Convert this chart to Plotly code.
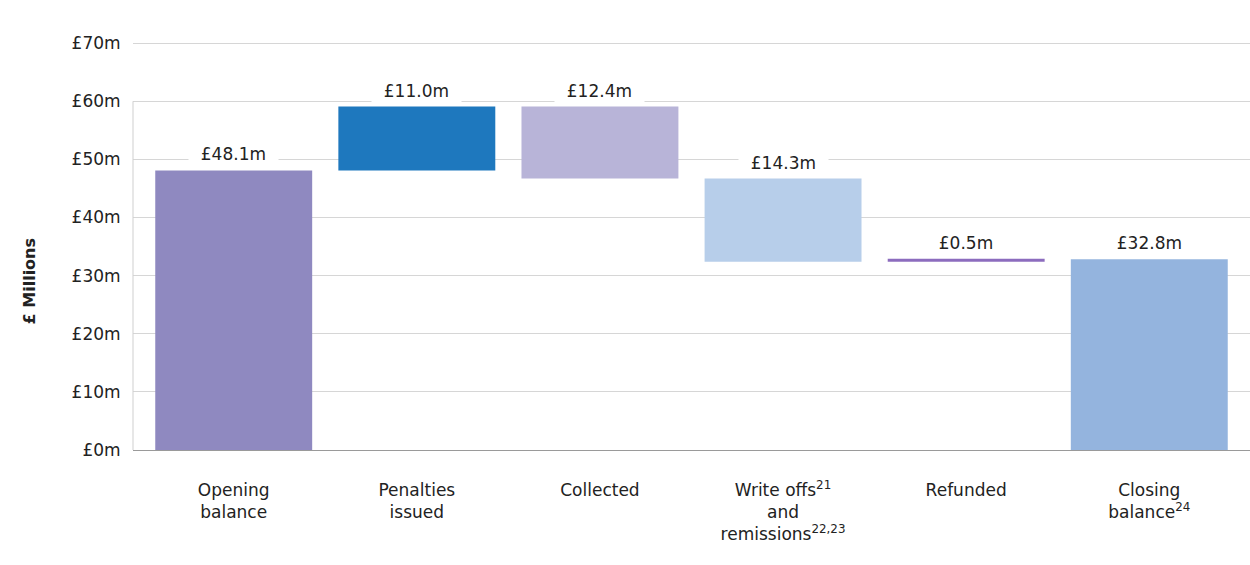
import plotly.graph_objects as go

categories = ["Opening<br>balance", "Penalties<br>issued", "Collected",
              "Write offs<sup>21</sup><br>and<br>remissions<sup>22,23</sup>",
              "Refunded", "Closing<br>balance<sup>24</sup>"]
changes = [48.1, 11.0, -12.4, -14.3, 0.5, 32.8]
measures = ["total", "relative", "relative", "relative", "relative", "total"]
value_labels = ["£48.1m", "£11.0m", "£12.4m", "£14.3m", "£0.5m", "£32.8m"]
colors = ["rgb(143,137,192)", "rgb(30,120,190)", "rgb(184,180,216)",
          "rgb(183,206,234)", "rgb(140,108,190)", "rgb(148,180,222)"]
y_ticks = [0, 10, 20, 30, 40, 50, 60, 70]
y_ticktext = ["£0m", "£10m", "£20m", "£30m", "£40m", "£50m", "£60m", "£70m"]
y_title = "£ Millions"

bases, heights, tops = [], [], []
running = 0.0
for c, m in zip(changes, measures):
    if m == "total":
        bases.append(0.0)
        heights.append(c)
        running = c
        tops.append(c)
    else:
        new = running + c
        bases.append(min(running, new))
        heights.append(abs(c))
        tops.append(max(running, new))
        running = new

x = list(range(len(categories)))
FONT = "DejaVu Sans"
TXT = "#222"

fig = go.Figure()
fig.add_trace(go.Bar(x=x, y=heights, base=bases, marker=dict(color=colors, line=dict(width=0)),
                     width=0.857, hoverinfo="skip", showlegend=False))

for xi, top, lab in zip(x, tops, value_labels):
    fig.add_annotation(x=xi, y=top, text="&nbsp;&nbsp;" + lab + "&nbsp;&nbsp;", showarrow=False,
                       yanchor="bottom", yshift=4, bgcolor="white", borderpad=1,
                       font=dict(family=FONT, size=17, color=TXT))

# y axis title placed lower, as in the reference
fig.add_annotation(xref="paper", yref="y", x=0, y=29, xanchor="center", yanchor="middle",
                   xshift=-104, text="<b>" + y_title + "</b>", textangle=-90, showarrow=False,
                   font=dict(family=FONT, size=16, color=TXT))

# y axis line from 0 to 60
fig.add_shape(type="line", xref="paper", yref="y", x0=0, x1=0, y0=0, y1=60,
              line=dict(color="#cfcfcf", width=1))

fig.update_layout(
    width=1250, height=565, margin=dict(l=133, r=0, t=42, b=115),
    paper_bgcolor="white", plot_bgcolor="white",
    font=dict(family=FONT, size=17, color=TXT),
    xaxis=dict(range=[-0.55, 5.55], tickvals=x, ticktext=categories, showgrid=False,
               zeroline=False, showline=False, ticks="", ticklabelstandoff=28,
               tickfont=dict(family=FONT, size=17, color=TXT)),
    yaxis=dict(range=[0, 70.2], tickvals=y_ticks, ticktext=y_ticktext, showgrid=True,
               gridcolor="#d6d6d6", gridwidth=1, zeroline=True, zerolinecolor="#9a9a9a",
               zerolinewidth=1, showline=False, ticks="outside", ticklen=8,
               tickcolor="rgba(0,0,0,0)", tickfont=dict(family=FONT, size=17, color=TXT)),
)

fig.write_html("out.html")
